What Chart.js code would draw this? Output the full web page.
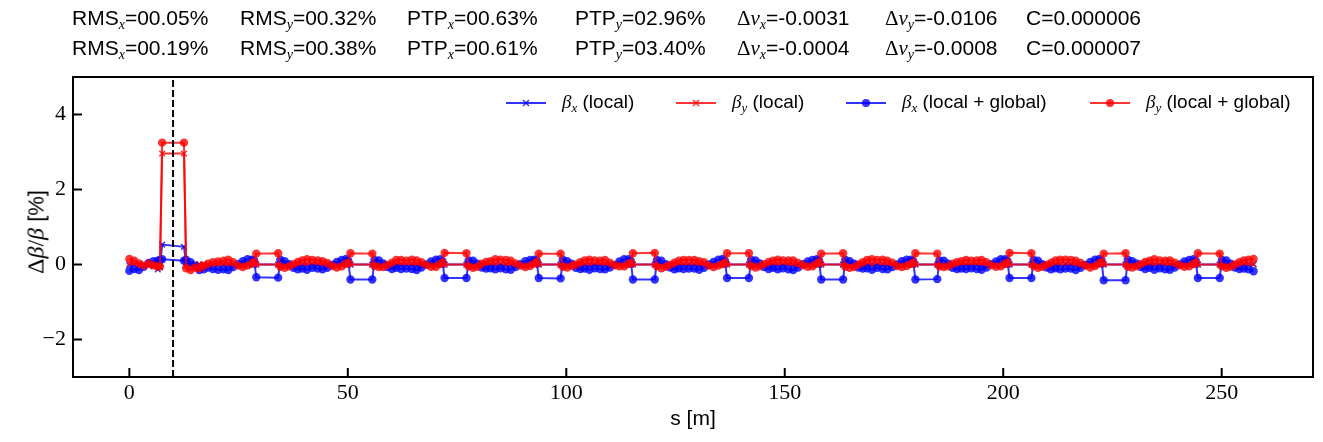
<!DOCTYPE html>
<html><head><meta charset="utf-8">
<script src="https://cdn.jsdelivr.net/npm/chart.js@4"></script>
<style>
body{margin:0;background:#fff;}
#wrap{position:relative;width:1323px;height:442px;overflow:hidden;background:#fff;}
canvas{position:absolute;left:0;top:0;}
.t{position:absolute;font-family:'Liberation Sans',Arial,sans-serif;font-size:21px;color:#000;white-space:nowrap;line-height:24px;}
.m{font-family:'Liberation Serif',serif;}
.mi{font-family:'Liberation Serif',serif;font-style:italic;}
.sub{font-family:'Liberation Serif',serif;font-style:italic;font-size:14px;position:relative;top:4px;}
.lg{position:absolute;font-family:'Liberation Sans',Arial,sans-serif;font-size:19px;white-space:nowrap;line-height:22px;color:#000;}
.lsub{font-family:'Liberation Serif',serif;font-style:italic;font-size:13px;position:relative;top:4px;}
.hd{position:absolute;}
#ytitle{position:absolute;left:36px;top:232px;transform:translate(-50%,-50%) rotate(-90deg);font-family:'Liberation Sans',Arial,sans-serif;font-size:22px;white-space:nowrap;color:#000;}
#ytitle .m,#ytitle .mi{font-size:24px;}
</style></head>
<body>
<div id="wrap">
<canvas id="c" width="1323" height="442"></canvas>

<div class="t" style="left:72px;top:6px">RMS<span class="sub">x</span>=00.05%</div>
<div class="t" style="left:240px;top:6px">RMS<span class="sub">y</span>=00.32%</div>
<div class="t" style="left:407px;top:6px">PTP<span class="sub">x</span>=00.63%</div>
<div class="t" style="left:575px;top:6px">PTP<span class="sub">y</span>=02.96%</div>
<div class="t" style="left:737px;top:6px"><span class="m">Δ</span><span class="mi">ν</span><span class="sub">x</span>=-0.0031</div>
<div class="t" style="left:885px;top:6px"><span class="m">Δ</span><span class="mi">ν</span><span class="sub">y</span>=-0.0106</div>
<div class="t" style="left:1026px;top:6px">C=0.000006</div>

<div class="t" style="left:72px;top:36px">RMS<span class="sub">x</span>=00.19%</div>
<div class="t" style="left:240px;top:36px">RMS<span class="sub">y</span>=00.38%</div>
<div class="t" style="left:407px;top:36px">PTP<span class="sub">x</span>=00.61%</div>
<div class="t" style="left:575px;top:36px">PTP<span class="sub">y</span>=03.40%</div>
<div class="t" style="left:737px;top:36px"><span class="m">Δ</span><span class="mi">ν</span><span class="sub">x</span>=-0.0004</div>
<div class="t" style="left:885px;top:36px"><span class="m">Δ</span><span class="mi">ν</span><span class="sub">y</span>=-0.0008</div>
<div class="t" style="left:1026px;top:36px">C=0.000007</div>

<div id="ytitle"><span class="m">Δ</span><span class="mi">β</span><span class="m">/</span><span class="mi">β</span> [%]</div>

<svg class="hd" style="left:506px;top:96px" width="40" height="14"><line x1="0" y1="7" x2="40" y2="7" stroke="rgba(0,0,255,0.8)" stroke-width="2"/><path d="M17 4 L23 10 M17 10 L23 4" stroke="rgba(0,0,255,0.8)" stroke-width="1.5"/></svg>
<div class="lg" style="left:562px;top:91px"><span class="mi">β</span><span class="lsub">x</span> (local)</div>
<svg class="hd" style="left:676px;top:96px" width="40" height="14"><line x1="0" y1="7" x2="40" y2="7" stroke="rgba(255,0,0,0.8)" stroke-width="2"/><path d="M17 4 L23 10 M17 10 L23 4" stroke="rgba(255,0,0,0.8)" stroke-width="1.5"/></svg>
<div class="lg" style="left:732px;top:91px"><span class="mi">β</span><span class="lsub">y</span> (local)</div>
<svg class="hd" style="left:846px;top:96px" width="40" height="14"><line x1="0" y1="7" x2="40" y2="7" stroke="rgba(0,0,255,0.8)" stroke-width="2"/><circle cx="20" cy="7" r="4" fill="rgba(0,0,255,0.8)"/></svg>
<div class="lg" style="left:902px;top:91px"><span class="mi">β</span><span class="lsub">x</span> (local + global)</div>
<svg class="hd" style="left:1090px;top:96px" width="40" height="14"><line x1="0" y1="7" x2="40" y2="7" stroke="rgba(255,0,0,0.8)" stroke-width="2"/><circle cx="20" cy="7" r="4" fill="rgba(255,0,0,0.8)"/></svg>
<div class="lg" style="left:1146px;top:91px"><span class="mi">β</span><span class="lsub">y</span> (local + global)</div>
</div>

<script>
// ---------- data ----------
const s = [
0.0,1.1,2.2,3.3,4.4,5.5,6.5,7.0,7.5,12.5,13.0,14.0,15.0,16.0,17.0,18.0,19.1,20.3,
21.55,22.65,23.75,24.85,25.95,27.05,28.05,28.55,29.05,34.05,34.55,35.55,36.55,37.55,38.55,39.55,40.65,41.85,
43.1,44.2,45.3,46.4,47.5,48.6,49.6,50.1,50.6,55.6,56.1,57.1,58.1,59.1,60.1,61.1,62.2,63.4,
64.65,65.75,66.85,67.95,69.05,70.15,71.15,71.65,72.15,77.15,77.65,78.65,79.65,80.65,81.65,82.65,83.75,84.95,
86.2,87.3,88.4,89.5,90.6,91.7,92.7,93.2,93.7,98.7,99.2,100.2,101.2,102.2,103.2,104.2,105.3,106.5,
107.75,108.85,109.95,111.05,112.15,113.25,114.25,114.75,115.25,120.25,120.75,121.75,122.75,123.75,124.75,125.75,126.85,128.05,
129.3,130.4,131.5,132.6,133.7,134.8,135.8,136.3,136.8,141.8,142.3,143.3,144.3,145.3,146.3,147.3,148.4,149.6,
150.85,151.95,153.05,154.15,155.25,156.35,157.35,157.85,158.35,163.35,163.85,164.85,165.85,166.85,167.85,168.85,169.95,171.15,
172.4,173.5,174.6,175.7,176.8,177.9,178.9,179.4,179.9,184.9,185.4,186.4,187.4,188.4,189.4,190.4,191.5,192.7,
193.95,195.05,196.15,197.25,198.35,199.45,200.45,200.95,201.45,206.45,206.95,207.95,208.95,209.95,210.95,211.95,213.05,214.25,
215.5,216.6,217.7,218.8,219.9,221.0,222.0,222.5,223.0,228.0,228.5,229.5,230.5,231.5,232.5,233.5,234.6,235.8,
237.05,238.15,239.25,240.35,241.45,242.55,243.55,244.05,244.55,249.55,250.05,251.05,252.05,253.05,254.05,255.05,256.15,
257.3
];

const betaxLocal = [
-0.02,0.00,0.01,0.00,-0.02,-0.05,-0.13,-0.08,0.53,0.47,0.02,0.01,-0.01,0.00,0.01,-0.01,0.00,0.01,
0.00,-0.01,0.00,0.01,0.02,0.01,0.00,-0.01,0.00,0.00,0.01,0.01,0.00,-0.01,-0.02,-0.01,0.00,0.01,
0.01,-0.01,-0.01,0.01,0.02,0.02,0.01,0.00,0.00,0.00,0.01,0.00,-0.01,-0.01,-0.02,-0.01,-0.01,0.00,
0.00,-0.02,-0.01,0.00,0.01,0.02,0.01,-0.01,0.00,0.00,0.02,0.01,0.00,-0.02,-0.01,-0.01,0.00,0.01,
0.01,-0.01,0.00,0.01,0.02,0.01,0.00,0.00,0.00,0.00,0.01,0.01,-0.01,-0.01,-0.02,0.00,-0.01,0.00,
0.00,-0.01,-0.01,0.00,0.02,0.02,0.01,-0.01,0.00,0.00,0.01,0.00,0.00,-0.01,-0.02,-0.01,0.00,0.01,
0.01,-0.02,0.00,0.01,0.01,0.01,0.00,0.00,0.00,0.00,0.02,0.01,0.00,-0.01,-0.01,-0.01,-0.01,0.00,
0.00,-0.01,-0.01,0.01,0.02,0.02,0.01,-0.01,0.00,0.00,0.01,0.01,-0.01,-0.02,-0.02,0.00,0.00,0.01,
0.01,-0.01,0.00,0.00,0.01,0.02,0.00,0.00,0.00,0.00,0.01,0.00,0.00,-0.01,-0.01,-0.01,0.00,0.00,
0.00,-0.02,-0.01,0.01,0.02,0.01,0.01,-0.01,0.00,0.00,0.02,0.01,0.00,-0.01,-0.02,-0.01,-0.01,0.01,
0.01,-0.01,0.00,0.01,0.01,0.02,0.00,0.00,0.00,0.00,0.01,0.01,-0.01,-0.01,-0.01,0.00,0.00,0.00,
0.00,-0.01,-0.01,0.00,0.02,0.01,0.01,-0.01,0.00,0.00,0.01,0.00,0.00,-0.02,-0.01,-0.01,0.00,
0.00
];

const betayLocal = [
0.02,0.01,0.00,-0.01,0.00,-0.02,-0.04,-0.05,2.96,2.96,-0.03,-0.02,0.00,0.01,0.00,-0.01,0.01,0.00,
0.01,0.01,0.00,-0.01,-0.01,0.00,0.01,0.00,0.00,0.00,-0.01,-0.01,0.00,0.01,0.02,0.01,0.00,0.00,
0.00,0.01,0.01,-0.01,-0.02,-0.01,0.00,0.01,0.00,0.00,-0.01,0.00,0.01,0.01,0.02,0.01,0.01,0.00,
0.01,0.02,0.00,0.00,-0.01,-0.02,0.00,0.00,0.00,0.00,-0.02,-0.01,0.00,0.02,0.01,0.01,0.00,-0.01,
0.00,0.01,0.00,-0.01,-0.02,-0.01,0.01,0.00,0.00,0.00,-0.01,-0.01,0.01,0.01,0.02,0.00,0.01,0.00,
0.01,0.01,0.01,0.00,-0.01,-0.02,0.00,0.01,0.00,0.00,-0.01,0.00,0.00,0.01,0.02,0.01,0.00,-0.01,
0.00,0.02,0.00,-0.01,-0.01,-0.01,0.00,0.00,0.00,0.00,-0.02,-0.01,0.00,0.01,0.01,0.01,0.01,0.00,
0.01,0.01,0.01,-0.01,-0.02,-0.02,0.00,0.01,0.00,0.00,-0.01,-0.01,0.01,0.02,0.02,0.00,0.00,-0.01,
0.00,0.01,0.00,0.00,-0.01,-0.02,0.00,0.00,0.00,0.00,-0.01,0.00,0.00,0.01,0.01,0.01,0.00,0.00,
0.01,0.02,0.01,-0.01,-0.02,-0.01,-0.01,0.01,0.00,0.00,-0.02,-0.01,0.00,0.01,0.02,0.01,0.01,-0.01,
0.00,0.01,0.00,-0.01,-0.01,-0.02,0.00,0.00,0.00,0.00,-0.01,-0.01,0.01,0.01,0.01,0.00,0.00,0.00,
0.01,0.01,0.01,0.00,-0.02,-0.01,0.00,0.01,0.00,0.00,-0.01,0.00,0.00,0.02,0.01,0.01,0.00,
0.01
];

const betaxGlobal = [
-0.17,-0.12,-0.15,-0.06,0.04,0.09,0.10,0.12,0.14,0.10,0.13,0.06,-0.03,-0.15,-0.13,-0.08,-0.12,-0.14,
-0.13,-0.15,-0.07,0.01,0.09,0.14,0.13,0.11,-0.34,-0.35,0.13,0.09,0.01,-0.09,-0.13,-0.11,-0.14,-0.09,
-0.11,-0.13,-0.09,-0.01,0.07,0.12,0.15,0.10,-0.40,-0.40,0.12,0.11,0.03,-0.07,-0.12,-0.09,-0.12,-0.11,
-0.12,-0.15,-0.08,0.00,0.08,0.13,0.14,0.09,-0.36,-0.36,0.11,0.10,0.02,-0.08,-0.11,-0.10,-0.13,-0.10,
-0.13,-0.14,-0.07,0.01,0.09,0.12,0.13,0.11,-0.36,-0.37,0.13,0.09,0.02,-0.09,-0.12,-0.11,-0.14,-0.10,
-0.12,-0.13,-0.08,-0.01,0.08,0.14,0.14,0.10,-0.40,-0.40,0.12,0.10,0.01,-0.08,-0.13,-0.10,-0.12,-0.11,
-0.11,-0.14,-0.09,0.00,0.07,0.13,0.15,0.10,-0.36,-0.36,0.12,0.11,0.03,-0.07,-0.12,-0.09,-0.13,-0.10,
-0.13,-0.15,-0.08,0.01,0.08,0.12,0.14,0.11,-0.40,-0.40,0.13,0.09,0.02,-0.08,-0.11,-0.10,-0.14,-0.09,
-0.12,-0.13,-0.07,0.00,0.09,0.13,0.13,0.09,-0.40,-0.39,0.11,0.10,0.02,-0.09,-0.12,-0.11,-0.12,-0.10,
-0.12,-0.14,-0.08,0.01,0.08,0.14,0.14,0.10,-0.36,-0.36,0.12,0.10,0.01,-0.08,-0.13,-0.10,-0.13,-0.11,
-0.11,-0.15,-0.09,-0.01,0.07,0.13,0.15,0.11,-0.42,-0.42,0.13,0.09,0.03,-0.07,-0.12,-0.09,-0.14,-0.10,
-0.13,-0.14,-0.08,0.00,0.08,0.12,0.14,0.10,-0.36,-0.36,0.12,0.11,0.02,-0.08,-0.12,-0.11,-0.13,
-0.18
];

const betayGlobal = [
0.15,0.10,0.03,-0.03,0.02,-0.02,-0.06,-0.05,3.25,3.25,-0.10,-0.15,-0.08,-0.10,-0.04,0.02,0.06,0.08,
0.10,0.13,0.06,-0.03,-0.07,-0.03,0.03,0.06,0.29,0.30,-0.06,-0.09,-0.05,0.01,0.07,0.11,0.14,0.12,
0.11,0.09,0.04,-0.04,-0.08,-0.05,0.02,0.04,0.30,0.29,-0.04,-0.07,-0.07,-0.01,0.05,0.12,0.12,0.10,
0.13,0.11,0.06,-0.01,-0.06,-0.06,0.01,0.05,0.31,0.30,-0.05,-0.09,-0.06,0.02,0.07,0.09,0.14,0.13,
0.12,0.10,0.03,-0.03,-0.07,-0.04,0.03,0.06,0.29,0.29,-0.06,-0.08,-0.04,0.00,0.06,0.11,0.13,0.11,
0.10,0.12,0.05,-0.02,-0.05,-0.05,0.02,0.04,0.30,0.31,-0.05,-0.10,-0.06,-0.01,0.05,0.10,0.12,0.12,
0.12,0.09,0.06,-0.03,-0.07,-0.03,0.01,0.05,0.30,0.30,-0.04,-0.08,-0.05,0.01,0.07,0.10,0.13,0.11,
0.11,0.11,0.04,-0.02,-0.06,-0.05,0.03,0.06,0.29,0.30,-0.06,-0.09,-0.07,0.00,0.06,0.12,0.14,0.12,
0.13,0.10,0.05,-0.04,-0.07,-0.04,0.02,0.04,0.30,0.29,-0.05,-0.07,-0.05,0.02,0.06,0.09,0.12,0.10,
0.11,0.12,0.06,-0.02,-0.06,-0.05,0.02,0.05,0.31,0.30,-0.04,-0.09,-0.06,-0.01,0.05,0.11,0.13,0.13,
0.12,0.10,0.04,-0.03,-0.08,-0.04,0.03,0.06,0.29,0.30,-0.06,-0.08,-0.05,0.01,0.07,0.10,0.14,0.11,
0.10,0.11,0.05,-0.02,-0.06,-0.05,0.01,0.05,0.30,0.29,-0.05,-0.09,-0.06,0.00,0.06,0.11,0.13,
0.15
];

const markerS = [10];           // dashed vertical marker position
const yRange = [-3, 5];
const xRange = [-12.9, 270.9];
const xTicks = [0, 50, 100, 150, 200, 250];
const xTickLabels = ['0', '50', '100', '150', '200', '250'];
const yTicks = [-2, 0, 2, 4];
const yTickLabels = ['\u22122', '0', '2', '4'];
const seriesLabels = ['βx (local)', 'βy (local)', 'βx (local + global)', 'βy (local + global)'];

// ---------- chart ----------
const BLUE = 'rgba(0,0,255,0.8)', RED = 'rgba(255,0,0,0.8)';
const pts = arr => s.map((v, i) => ({x: v, y: arr[i]}));

const framePlugin = {
  id: 'frame',
  afterDatasetsDraw(chart) {
    const {ctx, chartArea: a, scales: {x, y}} = chart;
    ctx.save();
    ctx.strokeStyle = '#000';
    ctx.lineWidth = 2;
    ctx.strokeRect(a.left, a.top, a.right - a.left, a.bottom - a.top);
    ctx.beginPath();
    xTicks.forEach(v => { const p = x.getPixelForValue(v); ctx.moveTo(p, a.bottom); ctx.lineTo(p, a.bottom - 9); });
    yTicks.forEach(v => { const p = y.getPixelForValue(v); ctx.moveTo(a.left, p); ctx.lineTo(a.left + 9, p); });
    ctx.stroke();
    ctx.restore();
  }
};

const common = {borderWidth: 2, fill: false, tension: 0, pointHoverRadius: 0};

new Chart(document.getElementById('c').getContext('2d'), {
  type: 'line',
  data: {
    datasets: [
      Object.assign({label: seriesLabels[0], data: pts(betaxLocal), borderColor: BLUE, pointStyle: 'crossRot',
        pointRadius: 4, pointBorderColor: BLUE, pointBorderWidth: 1.5, pointBackgroundColor: BLUE, order: 4}, common),
      Object.assign({label: seriesLabels[1], data: pts(betayLocal), borderColor: RED, pointStyle: 'crossRot',
        pointRadius: 4, pointBorderColor: RED, pointBorderWidth: 1.5, pointBackgroundColor: RED, order: 3}, common),
      Object.assign({label: seriesLabels[2], data: pts(betaxGlobal), borderColor: BLUE, pointStyle: 'circle',
        pointRadius: 4.2, pointBorderWidth: 0, pointBackgroundColor: BLUE, order: 2}, common),
      Object.assign({label: seriesLabels[3], data: pts(betayGlobal), borderColor: RED, pointStyle: 'circle',
        pointRadius: 4.2, pointBorderWidth: 0, pointBackgroundColor: RED, order: 1}, common),
      {label: 'marker', data: [{x: markerS[0], y: yRange[0]}, {x: markerS[0], y: yRange[1]}],
        borderColor: '#000', borderWidth: 2, borderDash: [7, 3], pointRadius: 0, fill: false, order: 0}
    ]
  },
  options: {
    responsive: false,
    animation: false,
    devicePixelRatio: 1,
    layout: {padding: {left: 0, right: 10, top: 77, bottom: 0}},
    plugins: {legend: {display: false}, tooltip: {enabled: false}},
    scales: {
      x: {
        type: 'linear', min: xRange[0], max: xRange[1],
        afterBuildTicks: sc => { sc.ticks = xTicks.map(v => ({value: v})); },
        afterFit: sc => { sc.height = 65; },
        grid: {display: false, drawTicks: false},
        border: {display: false},
        ticks: {padding: 3, color: '#000', font: {family: 'Liberation Serif', size: 22},
          maxRotation: 0, autoSkip: false, callback: (v, i) => xTickLabels[i]},
        title: {display: true, text: 's [m]', color: '#000',
          font: {family: 'Liberation Sans', size: 21}, padding: {top: 0, bottom: 10}}
      },
      y: {
        type: 'linear', min: yRange[0], max: yRange[1],
        afterBuildTicks: sc => { sc.ticks = yTicks.map(v => ({value: v})); },
        afterFit: sc => { sc.width = 73; },
        grid: {display: false, drawTicks: false},
        border: {display: false},
        ticks: {padding: 7, color: '#000', font: {family: 'Liberation Serif', size: 22},
          autoSkip: false, callback: (v, i) => yTickLabels[i]}
      }
    }
  },
  plugins: [framePlugin]
});
</script>
</body></html>
